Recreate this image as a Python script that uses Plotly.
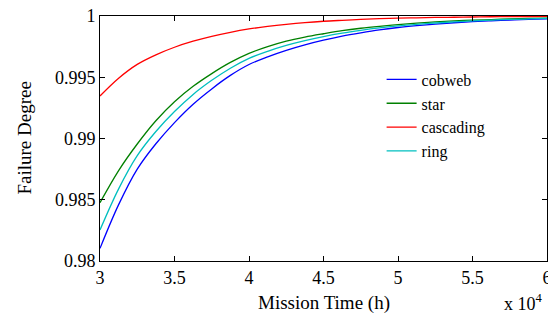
import plotly.graph_objects as go

mission_time = [3.0, 3.125, 3.25, 3.375, 3.5, 3.625, 3.75, 3.875, 4.0, 4.125, 4.25, 4.375, 4.5,
                4.625, 4.75, 4.875, 5.0, 5.125, 5.25, 5.375, 5.5, 5.625, 5.75, 5.875, 6.0]
cobweb = [0.98103, 0.98460, 0.98750, 0.98957, 0.99130, 0.99280, 0.99405, 0.99515, 0.99604, 0.99667,
          0.99720, 0.99765, 0.99803, 0.99836, 0.99863, 0.99887, 0.99906, 0.99921, 0.99934, 0.99945,
          0.99954, 0.99961, 0.99967, 0.99973, 0.99977]
star = [0.98476, 0.98738, 0.98955, 0.99145, 0.99300, 0.99426, 0.99530, 0.99621, 0.99695, 0.99750,
        0.99795, 0.99828, 0.99855, 0.99880, 0.99900, 0.99916, 0.99930, 0.99942, 0.99952, 0.99960,
        0.99966, 0.99971, 0.99976, 0.99980, 0.99983]
cascading = [0.99347, 0.99492, 0.99605, 0.99683, 0.99745, 0.99794, 0.99834, 0.99867, 0.99894, 0.99915,
             0.99932, 0.99946, 0.99957, 0.99965, 0.99972, 0.99978, 0.99982, 0.99985, 0.99988, 0.99990,
             0.99992, 0.99994, 0.99995, 0.99996, 0.99997]
ring = [0.98253, 0.98589, 0.98860, 0.99057, 0.99220, 0.99360, 0.99475, 0.99574, 0.99654, 0.99712,
        0.99760, 0.99799, 0.99832, 0.99860, 0.99883, 0.99903, 0.99919, 0.99932, 0.99943, 0.99952,
        0.99960, 0.99967, 0.99972, 0.99976, 0.99980]

x_ticks = [3, 3.5, 4, 4.5, 5, 5.5, 6]
x_tick_labels = ["3", "3.5", "4", "4.5", "5", "5.5", "6"]
y_ticks = [0.98, 0.985, 0.99, 0.995, 1.0]
y_tick_labels = ["0.98", "0.985", "0.99", "0.995", "1"]

series = [
    ("cobweb", cobweb, "#0000ff"),
    ("star", star, "#008000"),
    ("cascading", cascading, "#ff0000"),
    ("ring", ring, "#00bfbf"),
]

FONT = "Liberation Serif, Times New Roman, serif"

fig = go.Figure()
for name, vals, color in series:
    fig.add_trace(go.Scatter(
        x=mission_time, y=vals, name=name, mode="lines",
        line=dict(color=color, width=1.3, shape="spline", smoothing=1.0),
    ))

axis_common = dict(
    showgrid=False, zeroline=False, showline=True, linecolor="black", linewidth=1,
    mirror="ticks", ticks="inside", ticklen=5, tickcolor="black", tickwidth=1,
    tickfont=dict(family=FONT, size=18, color="black"),
    automargin=False, ticklabeloverflow="allow",
)

# Page has an 8px body margin; the figure is sized so the page does not overflow.
fig.update_layout(
    width=540, height=307,
    margin=dict(l=92, r=1, t=8, b=54),
    paper_bgcolor="white", plot_bgcolor="white",
    font=dict(family=FONT, color="black"),
    showlegend=True,
    legend=dict(
        x=0.63, y=0.81, xanchor="left", yanchor="top",
        bgcolor="rgba(0,0,0,0)", borderwidth=0,
        font=dict(family=FONT, size=16, color="black"),
        tracegroupgap=0, itemwidth=30,
    ),
    xaxis=dict(range=[3, 6], tickvals=x_ticks, ticktext=x_tick_labels, **axis_common),
    yaxis=dict(range=[0.98, 1.0], tickvals=y_ticks, ticktext=y_tick_labels, **axis_common),
    annotations=[
        dict(text="Mission Time (h)", xref="paper", yref="paper", x=0.5, y=-0.12,
             xanchor="center", yanchor="top", showarrow=False,
             font=dict(family=FONT, size=19, color="black")),
        dict(text="Failure Degree", xref="paper", yref="paper", x=-0.17, y=0.5,
             xanchor="center", yanchor="middle", textangle=-90, showarrow=False,
             font=dict(family=FONT, size=19, color="black")),
        dict(text="x 10<sup>4</sup>", xref="paper", yref="paper", x=0.995, y=-0.115,
             xanchor="right", yanchor="top", showarrow=False,
             font=dict(family=FONT, size=18, color="black")),
    ],
)

fig.write_html("out.html")
